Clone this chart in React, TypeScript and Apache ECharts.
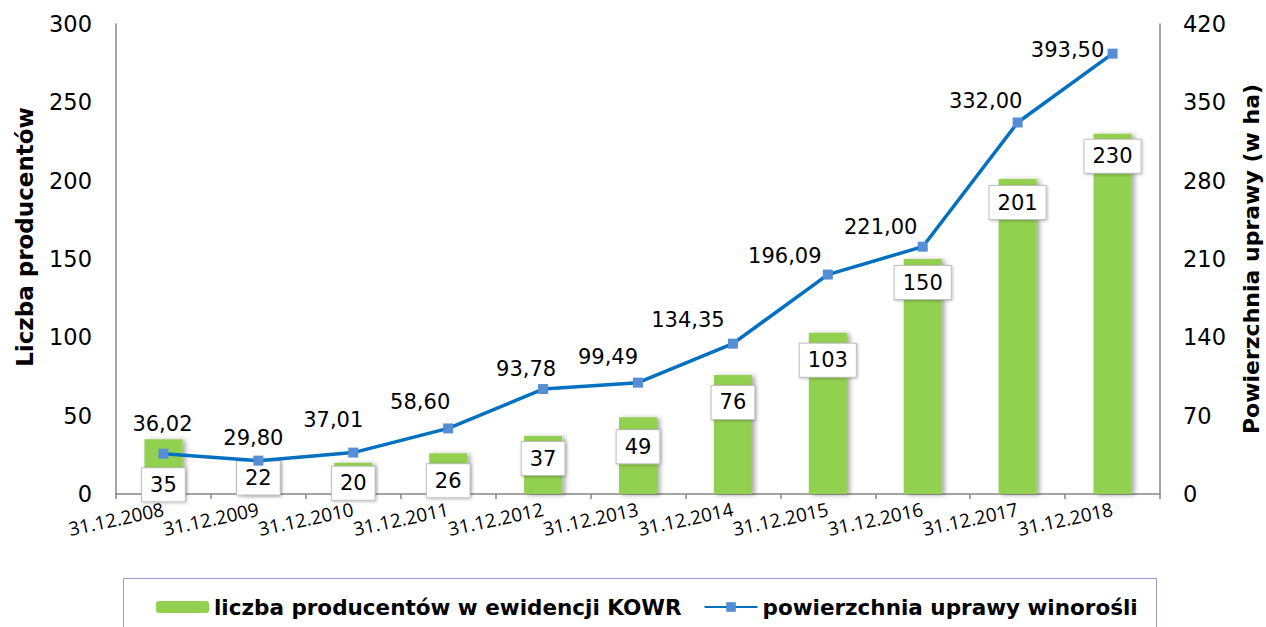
import React, { useEffect, useRef } from "react";
import * as echarts from "echarts";

const categories = [
  "31.12.2008", "31.12.2009", "31.12.2010", "31.12.2011", "31.12.2012", "31.12.2013",
  "31.12.2014", "31.12.2015", "31.12.2016", "31.12.2017", "31.12.2018",
];
const producers = [35, 22, 20, 26, 37, 49, 76, 103, 150, 201, 230];
const area = [36.02, 29.8, 37.01, 58.6, 93.78, 99.49, 134.35, 196.09, 221.0, 332.0, 393.5];
const leftTicks = { min: 0, max: 300, interval: 50 };
const rightTicks = { min: 0, max: 420, interval: 70 };

// label placement tweaks (pixels)
const barLabelOffsets = [22, -5, -3, 4, -1, 6, 4, 4, 0, 0, -1];
const lineLabelOffsets: [number, number][] = [
  [-1, -30], [-5, -23], [-20, -33], [-28, -26], [-17, -20], [-30, -26],
  [-45, -24], [-43, -19], [-42, -20], [-32, -21], [-45, -4],
];

const FONT = "DejaVu Sans, Verdana, sans-serif";
const AXIS_COLOR = "#868686";

export default function App() {
  const ref = useRef<HTMLDivElement>(null);
  useEffect(() => {
    document.body.style.margin = "0";
    if (!ref.current) return;
    const chart = echarts.init(ref.current, null, { renderer: "svg" });
    chart.setOption({
      animation: false,
      backgroundColor: "#fff",
      textStyle: { fontFamily: FONT },
      grid: { left: 116, right: 106, top: 24, bottom: 133, outerBoundsMode: "none", containLabel: false },
      legend: {
        left: 151,
        top: 591,
        itemWidth: 53,
        itemHeight: 12,
        itemGap: 22,
        textStyle: { fontFamily: FONT, fontWeight: "bold", fontSize: 21.5, color: "#000" },
        data: ["liczba producentów w ewidencji KOWR", "powierzchnia uprawy winorośli"],
      },
      graphic: [
        {
          type: "rect",
          shape: { x: 123.5, y: 578.5, width: 1033, height: 80 },
          style: { fill: "none", stroke: "#a596cf", lineWidth: 1 },
          silent: true,
        },
      ],
      xAxis: {
        type: "category",
        data: categories,
        boundaryGap: true,
        axisLine: { lineStyle: { color: AXIS_COLOR, width: 1.5 } },
        axisTick: { show: true, length: 5, lineStyle: { color: AXIS_COLOR, width: 1.5 } },
        axisLabel: {
          interval: 0,
          rotate: 12,
          margin: 15,
          fontFamily: "Open Sans, sans-serif",
          fontSize: 19,
          color: "#000",
        },
      },
      yAxis: [
        {
          type: "value",
          ...leftTicks,
          axisLine: { show: true, lineStyle: { color: AXIS_COLOR, width: 1.5 } },
          axisTick: { show: false },
          splitLine: { show: false },
          axisLabel: { fontSize: 22.5, color: "#000", margin: 24, fontFamily: FONT },
          name: "Liczba producentów",
          nameLocation: "middle",
          nameRotate: 90,
          nameGap: 80,
          nameTextStyle: {
            fontFamily: FONT, fontWeight: "bold", fontSize: 23, color: "#000",
            padding: [0, 0, 0, 44],
          },
        },
        {
          type: "value",
          position: "right",
          ...rightTicks,
          axisLine: { show: true, lineStyle: { color: AXIS_COLOR, width: 1.5 } },
          axisTick: { show: false },
          splitLine: { show: false },
          axisLabel: { fontSize: 22.5, color: "#000", margin: 23, fontFamily: FONT },
          name: "Powierzchnia uprawy (w ha)",
          nameLocation: "middle",
          nameRotate: 90,
          nameGap: 80,
          nameTextStyle: {
            fontFamily: FONT, fontWeight: "bold", fontSize: 22, lineHeight: 22, color: "#000",
          },
        },
      ],
      series: [
        {
          name: "liczba producentów w ewidencji KOWR",
          type: "bar",
          yAxisIndex: 0,
          barWidth: 38,
          itemStyle: {
            color: "#92D050",
            shadowColor: "rgba(0,0,0,0.35)",
            shadowBlur: 5,
            shadowOffsetX: 3,
            shadowOffsetY: 1,
          },
          data: producers.map((v, i) => ({
            value: v,
            label: { offset: [0, barLabelOffsets[i]] },
          })),
          label: {
            show: true,
            position: "insideTop",
            distance: 7,
            fontFamily: FONT,
            fontSize: 21,
            lineHeight: 21,
            color: "#000",
            backgroundColor: "#fff",
            borderColor: "#bfbfbf",
            borderWidth: 1,
            padding: [6, 8],
            shadowColor: "rgba(0,0,0,0.25)",
            shadowBlur: 3,
            shadowOffsetX: 1,
            shadowOffsetY: 1,
          },
          z: 2,
        },
        {
          name: "powierzchnia uprawy winorośli",
          type: "line",
          yAxisIndex: 1,
          symbol: "rect",
          symbolSize: 10,
          lineStyle: { color: "#0070C0", width: 3.5 },
          itemStyle: { color: "#558ED5" },
          data: area.map((v, i) => ({
            value: v,
            label: { offset: lineLabelOffsets[i] },
          })),
          label: {
            show: true,
            position: "inside",
            fontFamily: FONT,
            fontSize: 21,
            color: "#000",
            formatter: (p: any) => Number(p.value).toFixed(2).replace(".", ","),
          },
          z: 3,
        },
      ],
    });
    return () => chart.dispose();
  }, []);
  return <div ref={ref} style={{ width: 1266, height: 627 }} />;
}
